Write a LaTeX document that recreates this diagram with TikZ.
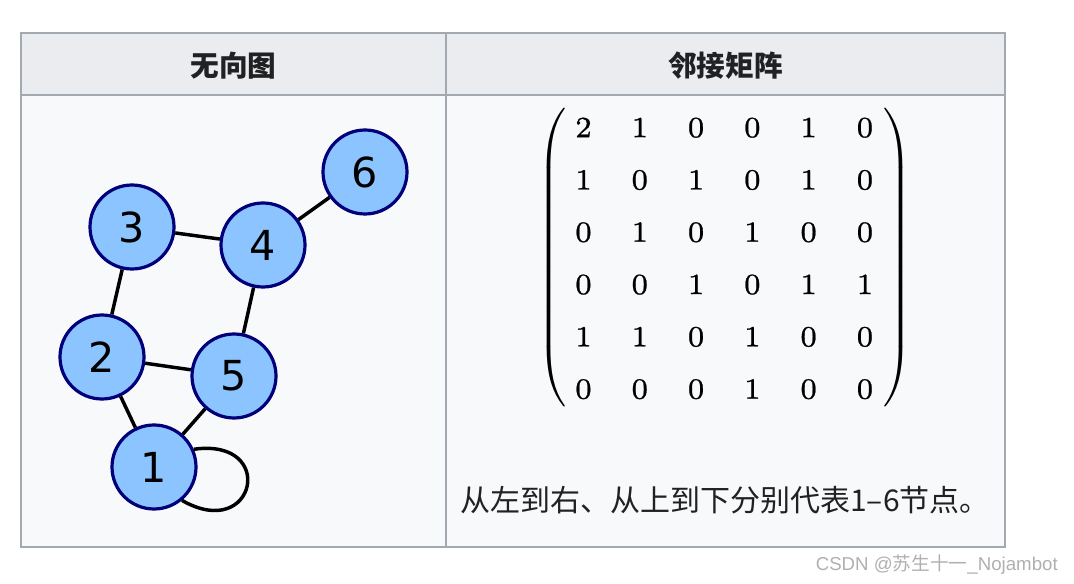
\documentclass[tikz,border=0pt]{standalone}
\usepackage{exscale}
\usepackage[no-math]{fontspec}
\usetikzlibrary{matrix}
\newfontfamily\cjk{Noto Sans CJK SC}
\newfontfamily\dejavu{DejaVu Sans}
\newfontfamily\arialike{Liberation Sans}
\newfontfamily\mtxdigits[Extension=.otf, FakeBold=0.8]{lmroman7-regular}
\definecolor{gridline}{HTML}{A2A9B1}
\definecolor{headbg}{HTML}{EAECF0}
\definecolor{bodybg}{HTML}{F8F9FA}
\definecolor{vtxfill}{HTML}{8CC4FF}
\definecolor{vtxline}{HTML}{00007A}
\definecolor{txt}{HTML}{202122}
\definecolor{wmgray}{HTML}{B0B0B0}
\newcommand{\tallbar}{\vcenter{\hrule height 113pt depth 113pt width 0pt}}
\tikzset{
  grid/.style={draw=gridline, line width=1.5pt},
  head/.style={text=txt, font=\cjk\bfseries\fontsize{21.5}{24}\selectfont},
  vertex/.style={circle, draw=vtxline, fill=vtxfill, line width=2.4pt, minimum size=63pt, inner sep=0pt, font=\dejavu\fontsize{31}{31}\selectfont},
  edge/.style={line width=2.6pt, black},
  entry/.style={minimum height=39pt, inner sep=0pt, font=\mtxdigits\fontsize{22}{26}\selectfont},
  paren/.style={inner sep=0pt, font=\fontsize{23}{28}\selectfont},
}
\begin{document}
\begin{tikzpicture}[x=0.75pt, y=0.75pt]
        \fill[white] (0,0) rectangle (1074,-584);
        \useasboundingbox (0,0) rectangle (1074,-584);

        % table
        \fill[headbg] (21,-33) rectangle (1005,-95);
        \fill[bodybg] (21,-95) rectangle (1005,-547);
        \draw[grid] (21,-33) rectangle (1005,-547);
        \draw[grid] (21,-95) -- (1005,-95);
        \draw[grid] (446,-33) -- (446,-547);

        \node[head] (headL) at (233.5,-66) {无向图};
        \node[head] (headR) at (725.5,-66) {邻接矩阵};

        % graph
        \node[vertex] (n1) at (154,-467) {1};
        \node[vertex] (n2) at (102,-357) {2};
        \node[vertex] (n3) at (132,-227) {3};
        \node[vertex] (n4) at (263,-245) {4};
        \node[vertex] (n5) at (234,-376) {5};
        \node[vertex] (n6) at (365,-172) {6};

        \foreach \a/\b in {1/2,1/5,2/3,2/5,3/4,4/5,4/6}
            \draw[edge] (n\a) -- (n\b);
        \draw[edge] (n1.24) .. controls +(8:85) and +(-30:85) .. (n1.-50);

        % matrix
        \matrix (adj) [matrix of nodes, anchor=center, nodes={entry},
            column sep=29.7pt, row sep=0pt] at (724.2,-258.3) {
            2 & 1 & 0 & 0 & 1 & 0 \\
            1 & 0 & 1 & 0 & 1 & 0 \\
            0 & 1 & 0 & 1 & 0 & 0 \\
            0 & 0 & 1 & 0 & 1 & 1 \\
            1 & 1 & 0 & 1 & 0 & 0 \\
            0 & 0 & 0 & 1 & 0 & 0 \\
        };
        \node[paren, anchor=east] (lparen) at (568.6,-257.5) {$\left(\tallbar\right.$};
        \node[paren, anchor=west] (rparen) at (881.4,-257.5) {$\left.\tallbar\right)$};

        \node[anchor=west, text=txt, inner sep=0pt, font=\cjk\fontsize{22.5}{26}\selectfont] (note) at (460,-500) {从左到右、从上到下分别代表1–6节点。};

        \node[anchor=east, text=wmgray, inner sep=0pt, font=\arialike\fontsize{14}{16}\selectfont] (wmark) at (1058,-565) {CSDN @{\cjk 苏生十一}\_Nojambot};
\end{tikzpicture}
\end{document}
